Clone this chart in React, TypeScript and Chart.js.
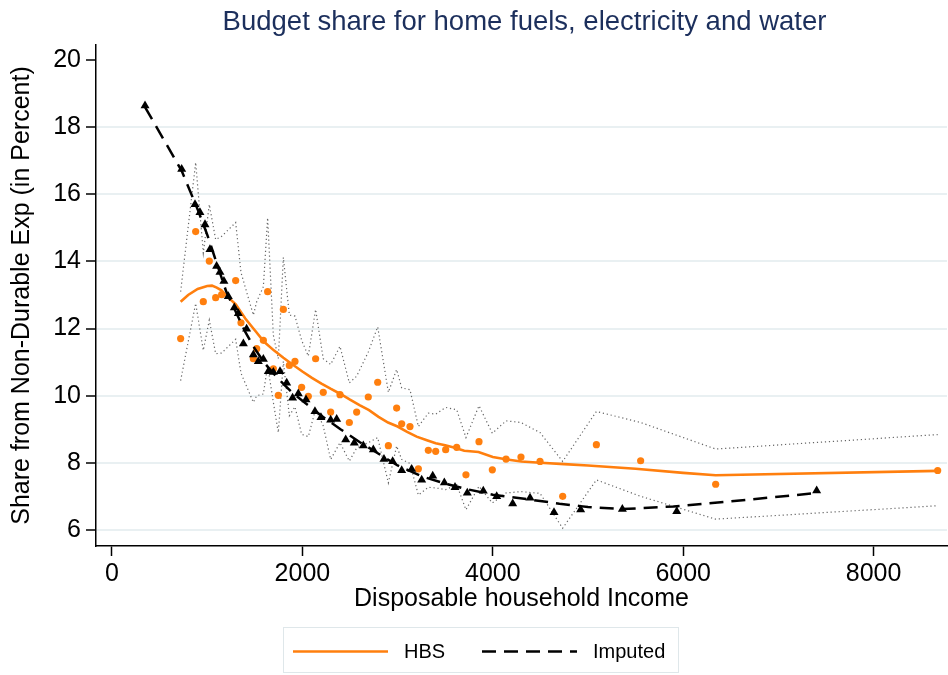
import React, { useEffect, useRef } from 'react';
import { Chart, registerables } from 'chart.js';

Chart.register(...registerables);

const chartTitle = 'Budget share for home fuels, electricity and water';
const xTitle = 'Disposable household Income';
const yTitle = 'Share from Non-Durable Exp (in Percent)';
const legendOrder = ['HBS', 'Imputed'];
const xTicks = [0, 2000, 4000, 6000, 8000];
const yTicks = [6, 8, 10, 12, 14, 16, 18, 20];

// HBS binned observations (orange dots) and their dotted bands
const hbsIncome = [721, 879, 959, 1022, 1089, 1152, 1299, 1355, 1485, 1520, 1590, 1635, 1695, 1747, 1800, 1863, 1922, 1992, 2062, 2139, 2219, 2297, 2395, 2493, 2570, 2692, 2791, 2903, 2990, 3043, 3130, 3218, 3323, 3400, 3505, 3621, 3718, 3855, 3995, 4139, 4296, 4496, 4734, 5088, 5553, 6341, 8673];
const hbsShare = [11.70, 14.89, 12.80, 14.01, 12.92, 13.01, 13.43, 12.17, 11.10, 11.40, 11.65, 13.10, 10.80, 10.01, 12.57, 10.90, 11.02, 10.25, 9.98, 11.10, 10.10, 9.51, 10.03, 9.20, 9.51, 9.96, 10.40, 8.51, 9.63, 9.16, 9.08, 7.82, 8.37, 8.34, 8.39, 8.46, 7.64, 8.63, 7.79, 8.11, 8.17, 8.04, 7.00, 8.54, 8.06, 7.36, 7.77];
const hbsUpper = [13.10, 16.95, 14.25, 15.70, 14.65, 14.75, 15.16, 13.67, 12.40, 12.80, 13.25, 15.30, 11.80, 11.10, 14.12, 12.40, 12.37, 11.65, 11.18, 12.57, 11.10, 10.93, 11.47, 10.38, 10.58, 11.30, 12.05, 10.10, 10.78, 10.23, 10.18, 9.08, 9.48, 9.45, 9.65, 9.58, 8.75, 9.70, 8.88, 9.25, 9.20, 8.90, 8.04, 9.53, 9.20, 8.41, 8.84];
const hbsLower = [10.45, 12.75, 11.35, 12.25, 11.25, 11.27, 11.68, 10.67, 9.80, 10.00, 10.05, 10.90, 9.80, 8.90, 11.02, 9.40, 9.67, 8.85, 8.78, 9.60, 9.10, 8.10, 8.60, 8.05, 8.44, 8.60, 8.75, 7.40, 8.50, 8.10, 7.98, 7.04, 7.27, 7.25, 7.20, 7.35, 6.60, 7.30, 6.80, 7.10, 7.14, 7.09, 6.05, 7.49, 7.00, 6.32, 6.72];

// HBS smoothed fit (orange solid line)
const hbsFitIncome = [721, 800, 900, 1000, 1050, 1100, 1150, 1200, 1300, 1400, 1500, 1600, 1700, 1800, 1900, 2000, 2100, 2200, 2300, 2400, 2500, 2600, 2700, 2800, 2900, 3000, 3100, 3200, 3300, 3400, 3500, 3600, 3700, 3850, 4000, 4150, 4300, 4500, 4750, 5000, 5500, 6000, 6341, 8673];
const hbsFitShare = [12.80, 13.00, 13.18, 13.27, 13.28, 13.22, 13.14, 12.98, 12.72, 12.30, 11.95, 11.60, 11.35, 11.13, 10.92, 10.72, 10.53, 10.36, 10.20, 10.05, 9.88, 9.72, 9.57, 9.37, 9.20, 9.08, 8.92, 8.78, 8.68, 8.58, 8.52, 8.45, 8.36, 8.32, 8.17, 8.10, 8.04, 8.00, 7.96, 7.92, 7.82, 7.70, 7.63, 7.76];

// Imputed binned observations (black triangles)
const impIncome = [347, 732, 872, 924, 977, 1029, 1099, 1134, 1176, 1222, 1285, 1327, 1380, 1414, 1485, 1537, 1590, 1642, 1695, 1765, 1835, 1897, 1957, 2038, 2132, 2195, 2297, 2360, 2455, 2545, 2640, 2745, 2857, 2948, 3043, 3148, 3253, 3369, 3491, 3603, 3732, 3900, 4041, 4209, 4391, 4643, 4923, 5361, 5932, 7402];
const impShare = [18.64, 16.75, 15.70, 15.46, 15.10, 14.36, 13.86, 13.68, 13.41, 12.96, 12.62, 12.45, 11.55, 11.99, 11.22, 11.02, 11.09, 10.72, 10.70, 10.72, 10.38, 9.93, 10.06, 9.88, 9.53, 9.35, 9.28, 9.30, 8.69, 8.59, 8.51, 8.39, 8.11, 8.04, 7.77, 7.81, 7.49, 7.61, 7.41, 7.27, 7.10, 7.16, 7.00, 6.78, 6.95, 6.52, 6.60, 6.62, 6.55, 7.17];

// Imputed smoothed fit (black dashed line)
const impFitIncome = [347, 732, 900, 1000, 1100, 1200, 1300, 1400, 1500, 1600, 1700, 1800, 1900, 2000, 2200, 2400, 2600, 2800, 3000, 3250, 3500, 3750, 4000, 4400, 4700, 5000, 5360, 5900, 6500, 7402];
const impFitShare = [18.60, 16.70, 15.55, 14.80, 13.95, 13.10, 12.50, 11.90, 11.40, 10.98, 10.65, 10.35, 10.07, 9.85, 9.40, 9.00, 8.62, 8.27, 7.92, 7.60, 7.38, 7.20, 7.05, 6.90, 6.78, 6.68, 6.62, 6.70, 6.85, 7.10];

const ORANGE = '#ff7f0e';
const FONT = '"Liberation Sans", Arial, Helvetica, sans-serif';

const zip = (xs: number[], ys: number[]) => xs.map((x, i) => ({ x, y: ys[i] }));

const overlayPlugin = {
  id: 'overlay',
  afterDraw(chart: any) {
    const { ctx, chartArea } = chart;
    ctx.save();
    // title
    ctx.fillStyle = '#1c2f5c';
    ctx.font = `27.5px ${FONT}`;
    ctx.textAlign = 'center';
    ctx.textBaseline = 'middle';
    ctx.fillText(chartTitle, (chartArea.left + chartArea.right) / 2 + 3, 22);

    // legend
    const bx = 283, by = 627, bw = 395, bh = 45;
    ctx.strokeStyle = '#dfe7ea';
    ctx.lineWidth = 1;
    ctx.strokeRect(bx + 0.5, by + 0.5, bw, bh);
    const cy = by + bh / 2 + 2;
    const slots = [293, 482];
    legendOrder.forEach((name, i) => {
      const d: any = chart.data.datasets.find((ds: any) => ds.label === name);
      if (!d) return;
      const sx = slots[i];
      ctx.beginPath();
      ctx.setLineDash(d.borderDash || []);
      ctx.strokeStyle = d.borderColor;
      ctx.lineWidth = d.borderWidth;
      ctx.moveTo(sx, cy);
      ctx.lineTo(sx + 95, cy);
      ctx.stroke();
      ctx.setLineDash([]);
      ctx.fillStyle = '#000';
      ctx.font = `20px ${FONT}`;
      ctx.textAlign = 'left';
      ctx.textBaseline = 'middle';
      ctx.fillText(d.label, sx + 111, cy + 1);
    });
    ctx.restore();
  },
};

export default function App() {
  const ref = useRef<HTMLCanvasElement | null>(null);

  useEffect(() => {
    if (!ref.current) return;
    Chart.defaults.font.family = FONT;
    const chart = new Chart(ref.current, {
      type: 'scatter',
      data: {
        datasets: [
          {
            label: 'Imputed obs',
            data: zip(impIncome, impShare),
            pointStyle: 'triangle',
            pointRadius: 5.2,
            backgroundColor: '#000',
            borderColor: '#000',
            borderWidth: 0,
            showLine: false,
            order: 1,
          },
          {
            label: 'Imputed',
            data: zip(impFitIncome, impFitShare),
            showLine: true,
            pointRadius: 0,
            borderColor: '#000',
            backgroundColor: '#000',
            borderWidth: 2.5,
            borderDash: [14, 8],
            tension: 0,
            order: 2,
          },
          {
            label: 'HBS',
            data: zip(hbsFitIncome, hbsFitShare),
            showLine: true,
            pointRadius: 0,
            borderColor: ORANGE,
            backgroundColor: ORANGE,
            borderWidth: 2.6,
            tension: 0,
            order: 3,
          },
          {
            label: 'HBS obs',
            data: zip(hbsIncome, hbsShare),
            pointStyle: 'circle',
            pointRadius: 3.6,
            backgroundColor: ORANGE,
            borderColor: ORANGE,
            borderWidth: 0,
            showLine: false,
            order: 4,
          },
          {
            label: 'Upper',
            data: zip(hbsIncome, hbsUpper),
            showLine: true,
            pointRadius: 0,
            borderColor: '#666',
            borderWidth: 1.2,
            borderDash: [1.2, 2.8],
            tension: 0,
            order: 5,
          },
          {
            label: 'Lower',
            data: zip(hbsIncome, hbsLower),
            showLine: true,
            pointRadius: 0,
            borderColor: '#666',
            borderWidth: 1.2,
            borderDash: [1.2, 2.8],
            tension: 0,
            order: 6,
          },
        ] as any,
      },
      options: {
        responsive: false,
        animation: false,
        layout: { autoPadding: false, padding: { top: 45, left: 0, right: 1, bottom: 49 } },
        plugins: {
          legend: { display: false },
          title: { display: false },
          tooltip: { enabled: false },
        },
        scales: {
          x: {
            type: 'linear',
            min: -168,
            max: 8771,
            afterBuildTicks: (s: any) => {
              s.ticks = xTicks.map((v) => ({ value: v }));
            },
            afterFit: (s: any) => {
              s.height = 80;
            },
            ticks: {
              color: '#000',
              font: { size: 25 },
              padding: 3,
              maxRotation: 0,
              callback: (v: any) => String(v),
            },
            grid: {
              drawOnChartArea: false,
              drawTicks: true,
              tickLength: 10,
              tickColor: '#000',
              tickWidth: 1.5,
            },
            border: { display: true, color: '#000', width: 1.5 },
            title: {
              display: true,
              text: xTitle,
              color: '#000',
              font: { size: 25 },
              padding: { top: 0, bottom: 12 },
            },
          },
          y: {
            type: 'linear',
            min: 5.52,
            max: 20.45,
            afterBuildTicks: (s: any) => {
              s.ticks = yTicks.map((v) => ({ value: v }));
            },
            afterFit: (s: any) => {
              s.width = 96;
            },
            ticks: {
              color: '#000',
              font: { size: 25 },
              padding: 5,
              callback: (v: any) => String(v),
            },
            grid: {
              drawOnChartArea: true,
              drawTicks: true,
              tickLength: 10,
              tickColor: '#000',
              tickWidth: 1.5,
              lineWidth: 2,
              color: (c: any) => (c.tick && c.tick.value === 20 ? 'rgba(0,0,0,0)' : '#e9f0f2'),
            },
            border: { display: true, color: '#000', width: 1.5 },
            title: {
              display: true,
              text: yTitle,
              color: '#000',
              font: { size: 25 },
              padding: { top: 7, bottom: 0 },
            },
          },
        },
      } as any,
      plugins: [overlayPlugin],
    });
    return () => chart.destroy();
  }, []);

  return (
    <div style={{ position: 'absolute', left: 0, top: 0, width: 948, height: 675, background: '#fff' }}>
      <canvas ref={ref} width={948} height={675} style={{ display: 'block', width: 948, height: 675 }} />
    </div>
  );
}
